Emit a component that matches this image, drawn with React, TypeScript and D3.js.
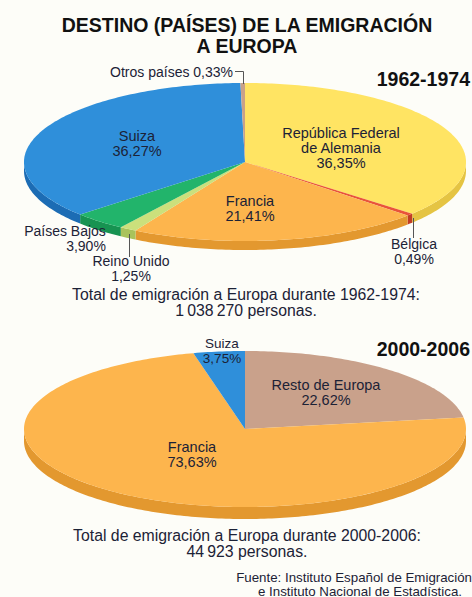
import React from "react";
import * as d3 from "d3";

const top_labels = ["República Federal de Alemania", "Bélgica", "Francia", "Reino Unido", "Países Bajos", "Suiza", "Otros países"];
const top_values = [36.35, 0.49, 21.41, 1.25, 3.9, 36.27, 0.33];
const top_colors = ["#FFE463", "#E9543A", "#FDB54D", "#CBE07C", "#22B46B", "#2F8FDA", "#C9A189"];
const top_sides = ["#E5C443", "#C23C25", "#E3982F", "#A9C35B", "#179351", "#1C6CB4", "#A8846E"];

const bot_labels = ["Resto de Europa", "Francia", "Suiza"];
const bot_values = [22.62, 73.63, 3.75];
const bot_colors = ["#C9A18B", "#FDB54D", "#2F8FDA"];
const bot_sides = ["#A8846E", "#E3982F", "#1C6CB4"];

const W = 472, H = 597;
const TXT = "#1c2236";
const FONT = "'Liberation Sans', Arial, Helvetica, sans-serif";

type PieProps = { values: number[]; colors: string[]; sides: string[]; cx: number; cy: number; rx: number; ry: number; depth: number };

function Pie3D({ values, colors, sides, cx, cy, rx, ry, depth }: PieProps) {
  const arcs = d3.pie<number>().sort(null).startAngle(0).endAngle(2 * Math.PI)(values);
  const pt = (t: number): [number, number] => [cx + rx * Math.sin(t), cy - ry * Math.cos(t)];
  const line = d3.line<[number, number]>();
  const sample = (a: number, b: number) => {
    const n = Math.max(2, Math.ceil(((b - a) / (2 * Math.PI)) * 360));
    return d3.range(n + 1).map((i) => pt(a + ((b - a) * i) / n));
  };
  const sidePaths = arcs.map((a, i) => {
    const s = Math.max(a.startAngle, Math.PI / 2);
    const e = Math.min(a.endAngle, (3 * Math.PI) / 2);
    if (e <= s) return null;
    const topPts = sample(s, e);
    const botPts = topPts.slice().reverse().map(([x, y]) => [x, y + depth] as [number, number]);
    return <path key={"s" + i} d={line([...topPts, ...botPts])! + "Z"} fill={sides[i]} />;
  });
  const topPaths = arcs.map((a, i) => (
    <path key={"t" + i} d={line([[cx, cy], ...sample(a.startAngle, a.endAngle)])! + "Z"} fill={colors[i]} />
  ));
  return (
    <g>
      {sidePaths}
      {topPaths}
    </g>
  );
}

function Lines({ x, y, lines, anchor = "middle", size = 14, weight = "normal", lh = 15, fill = TXT }: any) {
  return (
    <text x={x} y={y} textAnchor={anchor} fontSize={size} fontWeight={weight} fill={fill} fontFamily={FONT}>
      {lines.map((l: string, i: number) => (
        <tspan key={i} x={x} dy={i === 0 ? 0 : lh}>
          {l}
        </tspan>
      ))}
    </text>
  );
}

export default function App() {
  return (
    <svg width={W} height={H} style={{ position: "absolute", left: 0, top: 0, background: "#FDFDF8" }}>
      <rect width={W} height={H} fill="#FDFDF8" />
      <Lines x={247} y={31.5} lines={["DESTINO (PAÍSES) DE LA EMIGRACIÓN"]} size={19.5} weight="bold" fill="#111" />
      <Lines x={247} y={53} lines={["A EUROPA"]} size={19.5} weight="bold" fill="#111" />

      <Pie3D values={top_values} colors={top_colors} sides={top_sides} cx={245} cy={162} rx={221} ry={79} depth={9} />
      <Lines x={470} y={86} lines={["1962-1974"]} anchor="end" size={19.5} weight="bold" fill="#111" />
      <Lines x={233} y={77} lines={[`${top_labels[6]} 0,33%`]} anchor="end" size={14} />
      <path d="M235,71.5 H243.5 V84" fill="none" stroke="#555" strokeWidth={1} />
      <Lines x={137} y={141} lines={[top_labels[5], "36,27%"]} size={14.5} />
      <Lines x={341} y={138} lines={["República Federal", "de Alemania", "36,35%"]} size={14.5} />
      <Lines x={250} y={206} lines={[top_labels[2], "21,41%"]} size={14.5} />
      <Lines x={65} y={236} lines={[top_labels[4]]} size={14} />
      <Lines x={86} y={251} lines={["3,90%"]} size={14} />
      <path d="M129.5,234 V257" stroke="#555" strokeWidth={1} />
      <Lines x={131} y={266} lines={[top_labels[3], "1,25%"]} size={14} />
      <path d="M413.5,218 V238" stroke="#555" strokeWidth={1} />
      <Lines x={414} y={249} lines={[top_labels[1], "0,49%"]} size={14} lh={14.5} />
      <Lines x={246} y={300} lines={["Total de emigración a Europa durante 1962-1974:", "1\u2009038\u2009270 personas."]} size={15.8} lh={15.5} />

      <Pie3D values={bot_values} colors={bot_colors} sides={bot_sides} cx={245} cy={429} rx={221} ry={78} depth={12} />
      <Lines x={470} y={356} lines={["2000-2006"]} anchor="end" size={19.5} weight="bold" fill="#111" />
      <Lines x={222} y={348} lines={[bot_labels[2]]} size={13.5} />
      <Lines x={222} y={362.5} lines={["3,75%"]} size={13.5} />
      <Lines x={326} y={390} lines={[bot_labels[0], "22,62%"]} size={14.5} />
      <Lines x={192} y={452} lines={[bot_labels[1], "73,63%"]} size={14.5} />
      <Lines x={247} y={541} lines={["Total de emigración a Europa durante 2000-2006:", "44\u2009923 personas."]} size={15.8} lh={15.5} />
      <Lines x={472} y={582} lines={["Fuente: Instituto Español de Emigración"]} anchor="end" size={13.3} />
      <Lines x={462} y={595.5} lines={["e Instituto Nacional de Estadística."]} anchor="end" size={13.3} />
    </svg>
  );
}
